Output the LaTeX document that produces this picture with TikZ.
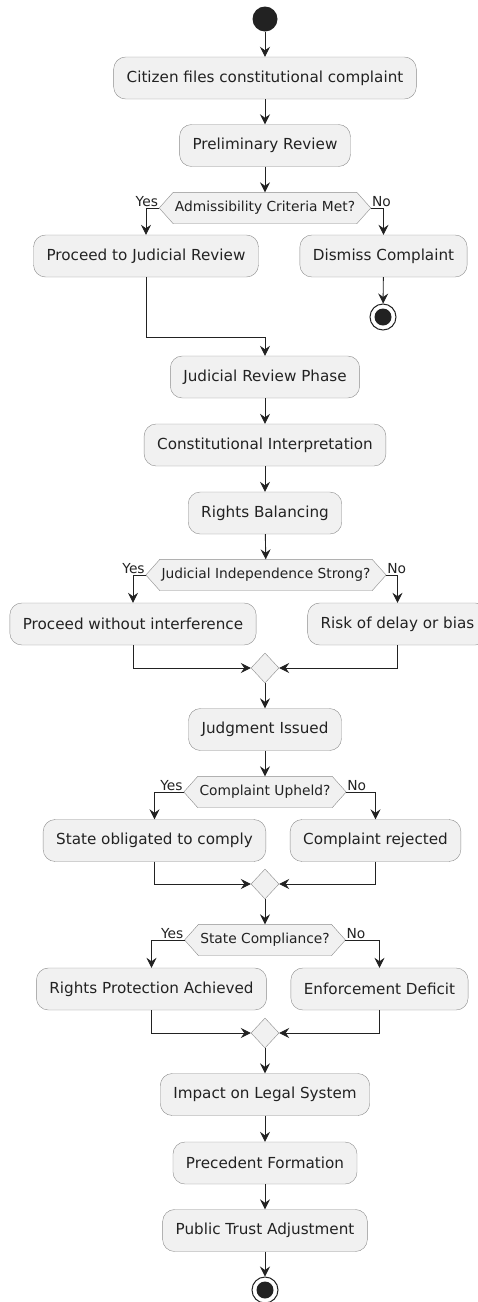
\documentclass[tikz,border=0pt]{standalone}
\usepackage{fontspec}
\setmainfont{DejaVu Sans}
\usetikzlibrary{shapes.geometric,arrows.meta,backgrounds}
\definecolor{boxfill}{HTML}{F1F1F1}
\definecolor{boxline}{HTML}{8C8C8C}
\definecolor{ink}{HTML}{222222}
\begin{document}
\begin{tikzpicture}[x=1pt,y=-1pt,
    act/.style={draw=boxline,fill=boxfill,rounded corners=12pt,minimum height=42pt,
      inner xsep=13pt,text=ink,font=\fontsize{15.2}{17}\selectfont},
    test/.style={rectangle,minimum height=31pt,inner xsep=1.5pt,inner ysep=0pt,
      text=ink,font=\fontsize{13.8}{15}\selectfont},
    merge/.style={diamond,draw=boxline,fill=boxfill,minimum width=28pt,
      minimum height=30pt,inner sep=0pt},
    begin/.style={circle,fill=ink,minimum size=25pt,inner sep=0pt},
    finish/.style={circle,draw=ink,line width=1pt,fill=white,minimum size=26pt,inner sep=0pt,
      path picture={\fill[ink] (path picture bounding box.center) circle (8.5pt);}},
    lbl/.style={text=ink,inner sep=1pt,font=\fontsize{13.8}{15}\selectfont}]
  \useasboundingbox (0,0) rectangle (478,1302);
  \draw
    (265,19) node[begin] (start){}
    (265,78) node[act] (file){Citizen files constitutional complaint}
    (265,145.5) node[act] (prelim){Preliminary Review}
    (265,208) node[test] (admit){Admissibility Criteria Met?}
    (146,256) node[act] (proceed){Proceed to Judicial Review}
    (383.5,256) node[act] (dismiss){Dismiss Complaint}
    (383,317) node[finish] (stop1){}
    (265,377) node[act] (review){Judicial Review Phase}
    (265,445) node[act] (interp){Constitutional Interpretation}
    (265,513) node[act] (balance){Rights Balancing}
    (266,575) node[test] (indep){Judicial Independence Strong?}
    (133,624) node[act] (nointerf){Proceed without interference}
    (397.5,624) node[act] (risk){Risk of delay or bias}
    (265,668) node[merge] (merge1){}
    (265,729.5) node[act] (judg){Judgment Issued}
    (265,792) node[test] (upheld){Complaint Upheld?}
    (154.5,840.5) node[act] (oblig){State obligated to comply}
    (375.5,840.5) node[act] (reject){Complaint rejected}
    (265,884) node[merge] (merge2){}
    (265,940) node[test] (comply){State Compliance?}
    (151.5,989) node[act] (protect){Rights Protection Achieved}
    (379.5,989) node[act] (deficit){Enforcement Deficit}
    (265,1033) node[merge] (merge3){}
    (265,1094.5) node[act] (impact){Impact on Legal System}
    (265,1163) node[act] (preced){Precedent Formation}
    (265,1230.5) node[act] (trust){Public Trust Adjustment}
    (265,1290) node[finish] (stop2){};
  % hexagons behind the decision texts
  \foreach \n in {admit,indep,upheld,comply} {
    \coordinate (\n-l) at ([xshift=-14pt]\n.west);
    \coordinate (\n-r) at ([xshift=14pt]\n.east);
    \begin{scope}[on background layer]
      \filldraw[draw=boxline,fill=boxfill] (\n-l) -- (\n.north west) -- (\n.north east)
        -- (\n-r) -- (\n.south east) -- (\n.south west) -- cycle;
    \end{scope}
  }
  % branch labels
  \node[lbl,anchor=south east] (yes1) at (admit-l) {Yes};
  \node[lbl,anchor=south west] (no1) at (admit-r) {No};
  \node[lbl,anchor=south east] (yes2) at (indep-l) {Yes};
  \node[lbl,anchor=south west] (no2) at (indep-r) {No};
  \node[lbl,anchor=south east] (yes3) at (upheld-l) {Yes};
  \node[lbl,anchor=south west] (no3) at (upheld-r) {No};
  \node[lbl,anchor=south east] (yes4) at (comply-l) {Yes};
  \node[lbl,anchor=south west] (no4) at (comply-r) {No};
  \coordinate (bend) at (265,337);
  \begin{scope}[draw=ink,line width=0.9pt,-{Stealth[length=10pt,width=10pt,inset=3.5pt]}]
    \draw (start) to (file);
    \draw (file) to (prelim);
    \draw (prelim) to (admit);
    \draw (admit-l) -| (proceed.north);
    \draw (admit-r) -| (dismiss.north);
    \draw (dismiss) to (stop1);
    \draw (proceed.south) |- (bend) -- (review.north);
    \draw (review) to (interp);
    \draw (interp) to (balance);
    \draw (balance) to (indep);
    \draw (indep-l) -| (nointerf.north);
    \draw (indep-r) -| (risk.north);
    \draw (nointerf.south) |- (merge1.west);
    \draw (risk.south) |- (merge1.east);
    \draw (merge1) to (judg);
    \draw (judg) to (upheld);
    \draw (upheld-l) -| (oblig.north);
    \draw (upheld-r) -| (reject.north);
    \draw (oblig.south) |- (merge2.west);
    \draw (reject.south) |- (merge2.east);
    \draw (merge2) to (comply);
    \draw (comply-l) -| (protect.north);
    \draw (comply-r) -| (deficit.north);
    \draw (protect.south) |- (merge3.west);
    \draw (deficit.south) |- (merge3.east);
    \draw (merge3) to (impact);
    \draw (impact) to (preced);
    \draw (preced) to (trust);
    \draw (trust) to (stop2);
  \end{scope}
\end{tikzpicture}
\end{document}
